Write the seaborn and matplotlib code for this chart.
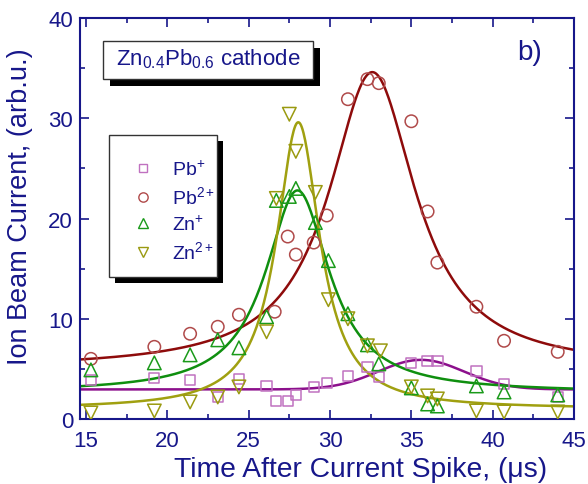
import numpy as np
import pandas as pd
import matplotlib
matplotlib.use("Agg")
import matplotlib.pyplot as plt
from matplotlib.patches import Rectangle
from matplotlib.lines import Line2D
from matplotlib.ticker import MultipleLocator
import seaborn as sns

# ---- measured ion currents (time in microseconds, current in arb. units) ----
pb1_t = [15.3, 19.2, 21.4, 23.1, 24.4, 26.1, 26.7, 27.4, 27.9, 29.0, 29.8, 31.1,
         32.3, 33.0, 35.0, 36.0, 36.6, 39.0, 40.7, 44.0]
pb1_i = [3.9, 4.1, 3.9, 2.2, 4.0, 3.3, 1.8, 1.8, 2.4, 3.2, 3.6, 4.3,
         5.2, 4.2, 5.6, 5.8, 5.8, 4.8, 3.5, 2.2]

pb2_t = [15.3, 19.2, 21.4, 23.1, 24.4, 26.6, 27.4, 27.9, 29.0, 29.8, 31.1,
         32.3, 33.0, 35.0, 36.0, 36.6, 39.0, 40.7, 44.0]
pb2_i = [6.0, 7.2, 8.5, 9.2, 10.4, 10.7, 18.2, 16.4, 17.6, 20.3, 31.9,
         33.9, 33.5, 29.7, 20.7, 15.6, 11.2, 7.8, 6.7]

zn1_t = [15.3, 19.2, 21.4, 23.1, 24.4, 26.1, 26.7, 27.5, 27.9, 29.1, 29.9, 31.1,
         32.3, 33.0, 35.0, 36.0, 36.6, 39.0, 40.7, 44.0]
zn1_i = [4.9, 5.6, 6.4, 7.9, 7.1, 10.2, 21.8, 22.2, 23.0, 19.6, 15.8, 10.5,
         7.4, 5.5, 3.1, 1.5, 1.3, 3.3, 2.7, 2.4]

zn2_t = [15.3, 19.2, 21.4, 23.1, 24.4, 26.1, 26.7, 27.5, 27.9, 29.1, 29.9, 31.1,
         32.3, 33.1, 35.0, 36.0, 36.6, 39.0, 40.7, 44.0]
zn2_i = [0.6, 0.8, 1.7, 2.2, 3.2, 8.7, 22.0, 30.4, 26.7, 22.6, 11.9, 10.0,
         7.3, 6.8, 3.2, 2.3, 2.0, 0.8, 0.7, 0.7]

ion_labels = ["Pb$^{+}$", "Pb$^{2+}$", "Zn$^{+}$", "Zn$^{2+}$"]

# ---- peak fits: baseline, peak height above baseline, centre, FWHM ----
pb1_fit = dict(kind="gauss", y0=2.95, h=2.95, xc=35.6, w=6.2)
pb2_fit = dict(kind="lorentz", y0=5.0, h=29.6, xc=32.6, w=6.5)
zn1_fit = dict(kind="lorentz", y0=2.64, h=20.16, xc=28.0, w=4.8)
zn2_fit = dict(kind="lorentz", y0=1.0, h=28.6, xc=28.05, w=3.25)

NAVY = "#17178a"
marker_colors = ["#c071c0", "#b04a4a", "#1a9a1a", "#9a9a10"]
line_colors = ["#8c108c", "#8e0b0b", "#0f8f0f", "#a0a010"]
marker_shapes = ["s", "o", "^", "v"]
marker_sizes = [55, 80, 95, 95]


def peak(t, kind, y0, h, xc, w):
    if kind == "gauss":
        return y0 + h * np.exp(-4 * np.log(2) * (t - xc) ** 2 / w ** 2)
    return y0 + h / (1 + 4 * (t - xc) ** 2 / w ** 2)


sns.set_style("ticks")
plt.rcParams["font.family"] = ["Liberation Sans", "DejaVu Sans"]
plt.rcParams["mathtext.fontset"] = "custom"
plt.rcParams["mathtext.rm"] = "Liberation Sans"
plt.rcParams["mathtext.it"] = "Liberation Sans:italic"
plt.rcParams["mathtext.default"] = "regular"

W, H = 588, 485
fig = plt.figure(figsize=(W / 100, H / 100), dpi=100)
ax = fig.add_axes([80 / W, 65 / H, 494 / W, 401 / H])

xlim = (14.63, 45)
t_grid = np.linspace(xlim[0], xlim[1], 600)

series = [(pb1_t, pb1_i, pb1_fit), (pb2_t, pb2_i, pb2_fit),
          (zn1_t, zn1_i, zn1_fit), (zn2_t, zn2_i, zn2_fit)]

curves = pd.concat([
    pd.DataFrame({"t": t_grid, "i": peak(t_grid, **fit), "ion": lab})
    for (_, _, fit), lab in zip(series, ion_labels)
])
points = pd.concat([
    pd.DataFrame({"t": t, "i": i, "ion": lab})
    for (t, i, _), lab in zip(series, ion_labels)
])

sns.lineplot(data=curves, x="t", y="i", hue="ion", hue_order=ion_labels,
             palette=line_colors, estimator=None, linewidth=1.8,
             legend=False, ax=ax, zorder=2)

for lab, mk, mc, ms in zip(ion_labels, marker_shapes, marker_colors, marker_sizes):
    sub = points[points["ion"] == lab]
    sns.scatterplot(data=sub, x="t", y="i", marker=mk, s=ms,
                    facecolor="none", edgecolor=mc, linewidth=1.1,
                    ax=ax, zorder=3)

ax.set_xlim(*xlim)
ax.set_ylim(0, 40)
ax.xaxis.set_major_locator(MultipleLocator(5))
ax.xaxis.set_minor_locator(MultipleLocator(2.5))
ax.yaxis.set_major_locator(MultipleLocator(10))
ax.yaxis.set_minor_locator(MultipleLocator(5))
ax.set_xticks([15, 20, 25, 30, 35, 40, 45])

for sp in ax.spines.values():
    sp.set_visible(True)
    sp.set_color(NAVY)
    sp.set_linewidth(1.5)
ax.tick_params(which="both", direction="in", top=True, right=True,
               color=NAVY, width=1.2, labelcolor=NAVY, labelsize=16)
ax.tick_params(which="major", length=6.5)
ax.tick_params(which="minor", length=3.5)
ax.tick_params(axis="x", which="major", pad=8)
ax.tick_params(axis="y", which="major", pad=5)

ax.set_xlabel("Time After Current Spike, (\u03bcs)", fontsize=20.3, color=NAVY)
ax.set_ylabel("Ion Beam Current, (arb.u.)", fontsize=19.5, color=NAVY)
ax.xaxis.set_label_coords((361 - 80) / 494, -(470 - 420) / 401)
ax.yaxis.set_label_coords(-(80 - 20) / 494, 1 - (207 - 19) / 401)
ax.xaxis.label.set_va("center")
ax.yaxis.label.set_va("center")


def shadow_box(x0, y0, x1, y1, off_px=6):
    """Framed box with a solid black drop shadow, given in axes fractions."""
    dx = off_px / 494
    dy = off_px / 401
    ax.add_patch(Rectangle((x0 + dx, y0 - dy), x1 - x0, y1 - y0,
                           transform=ax.transAxes, facecolor="black",
                           edgecolor="none", zorder=5, clip_on=False))
    ax.add_patch(Rectangle((x0, y0), x1 - x0, y1 - y0,
                           transform=ax.transAxes, facecolor="white",
                           edgecolor="#333333", linewidth=1.0, zorder=6,
                           clip_on=False))


# sample label box
shadow_box(0.0466, 0.8479, 0.4717, 0.9426, off_px=7)
ax.text((0.0466 + 0.4717) / 2, (0.8479 + 0.9426) / 2 + 0.005,
        "Zn$_{0.4}$Pb$_{0.6}$ cathode", transform=ax.transAxes,
        ha="center", va="center", fontsize=16, color=NAVY, zorder=7)

# legend box
shadow_box(0.0587, 0.3541, 0.2773, 0.7082, off_px=6)
handles = [Line2D([], [], linestyle="none", marker=mk, markersize=np.sqrt(ms) * 0.75,
                  markerfacecolor="none", markeredgecolor=mc, markeredgewidth=1.0)
           for mk, mc, ms in zip(marker_shapes, marker_colors, marker_sizes)]
leg = ax.legend(handles, ion_labels, loc="upper left",
                bbox_to_anchor=((131 - 80) / 494, 0.648), frameon=False,
                fontsize=14, labelcolor=NAVY, handlelength=1.2,
                handletextpad=0.9, labelspacing=0.36, borderaxespad=0,
                borderpad=0)
leg.set_zorder(8)

ax.text(0.885, 0.915, "b)", transform=ax.transAxes, fontsize=20,
        color=NAVY, ha="left", va="center")

fig.savefig("out.png", dpi=100)
